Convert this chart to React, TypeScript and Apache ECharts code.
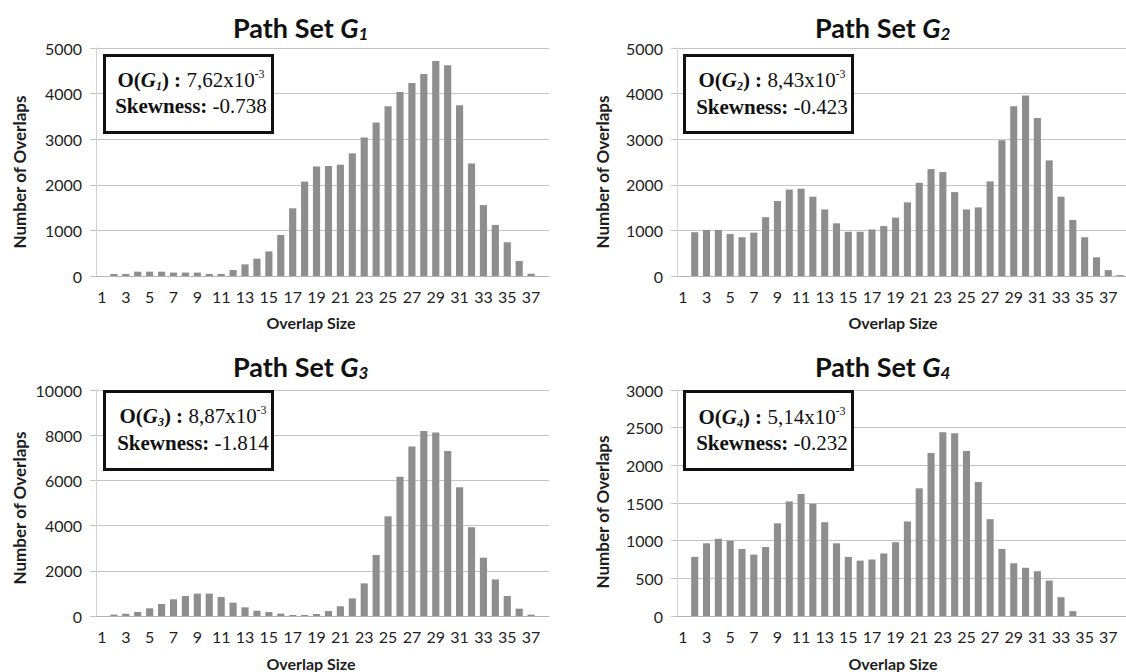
import React, { useEffect, useRef } from "react";
import * as echarts from "echarts";

const categories = [
  "1", "2", "3", "4", "5", "6", "7", "8", "9", "10",
  "11", "12", "13", "14", "15", "16", "17", "18", "19", "20",
  "21", "22", "23", "24", "25", "26", "27", "28", "29", "30",
  "31", "32", "33", "34", "35", "36", "37", "38",
];

const g1Values = [0, 45, 45, 95, 95, 95, 75, 75, 75, 45, 45, 130, 255, 380, 540, 900, 1485, 2070, 2400, 2410, 2440, 2690, 3035, 3365, 3720, 4035, 4230, 4430, 4715, 4620, 3745, 2465, 1555, 1120, 740, 330, 50, 0];
const g2Values = [0, 960, 1010, 1010, 920, 850, 950, 1290, 1645, 1895, 1915, 1740, 1460, 1155, 970, 970, 1020, 1095, 1280, 1615, 2045, 2345, 2280, 1840, 1460, 1505, 2075, 2975, 3720, 3960, 3465, 2535, 1740, 1230, 850, 410, 130, 20];
const g3Values = [0, 60, 100, 180, 340, 530, 740, 885, 990, 990, 840, 590, 385, 235, 175, 105, 45, 45, 90, 220, 430, 780, 1445, 2700, 4410, 6165, 7505, 8185, 8125, 7300, 5695, 3925, 2580, 1620, 885, 325, 60, 0];
const g4Values = [0, 785, 965, 1025, 1000, 890, 815, 915, 1230, 1520, 1620, 1490, 1245, 965, 785, 735, 750, 830, 980, 1255, 1695, 2165, 2440, 2425, 2190, 1780, 1285, 890, 700, 640, 595, 470, 250, 65, 0, 0, 0, 0];

const yMaxes = [5000, 5000, 10000, 3000];
const yIntervals = [1000, 1000, 2000, 500];

const subscripts = ["1", "2", "3", "4"];
const oValues = ["7,62x10", "8,43x10", "8,87x10", "5,14x10"];
const skewValues = ["-0.738", "-0.423", "-1.814", "-0.232"];

const titleText = "Path Set ";
const xName = "Overlap Size";
const yName = "Number of Overlaps";

export default function App() {
  const ref = useRef<HTMLDivElement>(null);

  useEffect(() => {
    const chart = echarts.init(ref.current!, null, { renderer: "svg" });
    const seriesData = [g1Values, g2Values, g3Values, g4Values];

    const grids = [
      { left: 96, top: 48, width: 453, height: 228 },
      { left: 677, top: 48, width: 454, height: 228 },
      { left: 96, top: 390, width: 453, height: 226 },
      { left: 677, top: 390, width: 454, height: 226 },
    ];

    const sans = "Lato, 'Noto Sans', sans-serif";
    const serif = "'Liberation Serif', 'DejaVu Serif', serif";

    const xAxes = grids.map((_, i) => ({
      type: "category",
      gridIndex: i,
      data: categories,
      boundaryGap: true,
      axisTick: { show: false },
      axisLine: { show: true, lineStyle: { color: "#b4b4b4", width: 1 } },
      axisLabel: {
        interval: 1,
        margin: 12,
        color: "#1e1e1e",
        fontFamily: sans,
        fontSize: 16,
      },
    }));

    const yAxes = grids.map((_, i) => ({
      type: "value",
      gridIndex: i,
      min: 0,
      max: yMaxes[i],
      interval: yIntervals[i],
      axisLine: { show: true, lineStyle: { color: "#d2d2d2", width: 1 } },
      axisTick: { show: true, length: 6, lineStyle: { color: "#c4c4c4" } },
      splitLine: { show: true, lineStyle: { color: "#c4c4c4", width: 1 } },
      axisLabel: {
        margin: 14,
        color: "#1e1e1e",
        fontFamily: sans,
        fontSize: 16,
        formatter: (v: number) => String(v),
      },
    }));

    const series = seriesData.map((d, i) => ({
      type: "bar",
      xAxisIndex: i,
      yAxisIndex: i,
      data: d,
      barWidth: "60%",
      itemStyle: { color: "#8e8e8e" },
      silent: true,
    }));

    const titlePos = [
      [233, 27],
      [815, 27],
      [233, 366],
      [815, 366],
    ];
    const xNamePos = [
      [311, 322],
      [893, 322],
      [311, 663],
      [893, 663],
    ];
    const yNamePos = [
      [19, 172],
      [602, 172],
      [19, 508],
      [602, 512],
    ];
    const boxPos = [
      [104.5, 55.5, 168, 77],
      [684.5, 55.5, 168, 77],
      [104.5, 391.5, 168, 78],
      [684.5, 391.5, 168, 78],
    ];
    const boxText = [
      [191, 80, 106],
      [772, 80, 107],
      [193, 416, 443],
      [772, 417, 443],
    ];

    const graphics: any[] = [];
    for (let i = 0; i < 4; i++) {
      graphics.push({
        type: "text",
        x: titlePos[i][0],
        y: titlePos[i][1],
        style: {
          text: `{b|${titleText}}{bi|G}{sub|${subscripts[i]}}`,
          textAlign: "left",
          align: "left",
          textVerticalAlign: "middle",
          verticalAlign: "middle",
          fill: "#111",
          rich: {
            b: { fontFamily: sans, fontWeight: "bold", fontSize: 27, lineHeight: 30, fill: "#111" },
            bi: { fontFamily: sans, fontWeight: "bold", fontStyle: "italic", fontSize: 27, lineHeight: 30, fill: "#111" },
            sub: { fontFamily: sans, fontWeight: "bold", fontStyle: "italic", fontSize: 17, lineHeight: 20, verticalAlign: "bottom", fill: "#111" },
          },
        },
      });
      graphics.push({
        type: "text",
        x: xNamePos[i][0],
        y: xNamePos[i][1],
        style: {
          text: xName,
          textAlign: "center",
          align: "center",
          textVerticalAlign: "middle",
          verticalAlign: "middle",
          fill: "#1e1e1e",
          font: `bold 16px ${sans}`,
        },
      });
      graphics.push({
        type: "text",
        x: yNamePos[i][0],
        y: yNamePos[i][1],
        rotation: Math.PI / 2,
        style: {
          text: yName,
          textAlign: "center",
          align: "center",
          textVerticalAlign: "middle",
          verticalAlign: "middle",
          fill: "#1e1e1e",
          font: `bold 17px ${sans}`,
        },
      });
      graphics.push({
        type: "rect",
        shape: { x: boxPos[i][0], y: boxPos[i][1], width: boxPos[i][2], height: boxPos[i][3] },
        style: { fill: "#fff", stroke: "#111", lineWidth: 3 },
        z: 10,
      });
      graphics.push({
        type: "text",
        x: boxText[i][0],
        y: boxText[i][1],
        z: 11,
        style: {
          text: `{b|O(}{bi|G}{sub|${subscripts[i]}}{b|) : }{r|${oValues[i]}}{sup|-3}`,
          textAlign: "center",
          align: "center",
          textVerticalAlign: "middle",
          verticalAlign: "middle",
          fill: "#111",
          rich: {
            b: { fontFamily: serif, fontWeight: "bold", fontSize: 21, lineHeight: 24, fill: "#111" },
            bi: { fontFamily: serif, fontWeight: "bold", fontStyle: "italic", fontSize: 21, lineHeight: 24, fill: "#111" },
            sub: { fontFamily: serif, fontWeight: "bold", fontStyle: "italic", fontSize: 12, lineHeight: 14, verticalAlign: "bottom", fill: "#111" },
            r: { fontFamily: serif, fontSize: 21, lineHeight: 24, fill: "#111" },
            sup: { fontFamily: serif, fontSize: 12, lineHeight: 14, verticalAlign: "top", fill: "#111" },
          },
        },
      });
      graphics.push({
        type: "text",
        x: boxText[i][0],
        y: boxText[i][2],
        z: 11,
        style: {
          text: `{b|Skewness:}{r| ${skewValues[i]}}`,
          textAlign: "center",
          align: "center",
          textVerticalAlign: "middle",
          verticalAlign: "middle",
          fill: "#111",
          rich: {
            b: { fontFamily: serif, fontWeight: "bold", fontSize: 21, lineHeight: 24, fill: "#111" },
            r: { fontFamily: serif, fontSize: 21, lineHeight: 24, fill: "#111" },
          },
        },
      });
    }

    chart.setOption({
      animation: false,
      backgroundColor: "#ffffff",
      grid: grids,
      xAxis: xAxes,
      yAxis: yAxes,
      series,
      graphic: { elements: graphics },
    });

    return () => {
      chart.dispose();
    };
  }, []);

  return (
    <div
      ref={ref}
      style={{ position: "fixed", left: 0, top: 0, width: 1126, height: 672, background: "#fff" }}
    />
  );
}
